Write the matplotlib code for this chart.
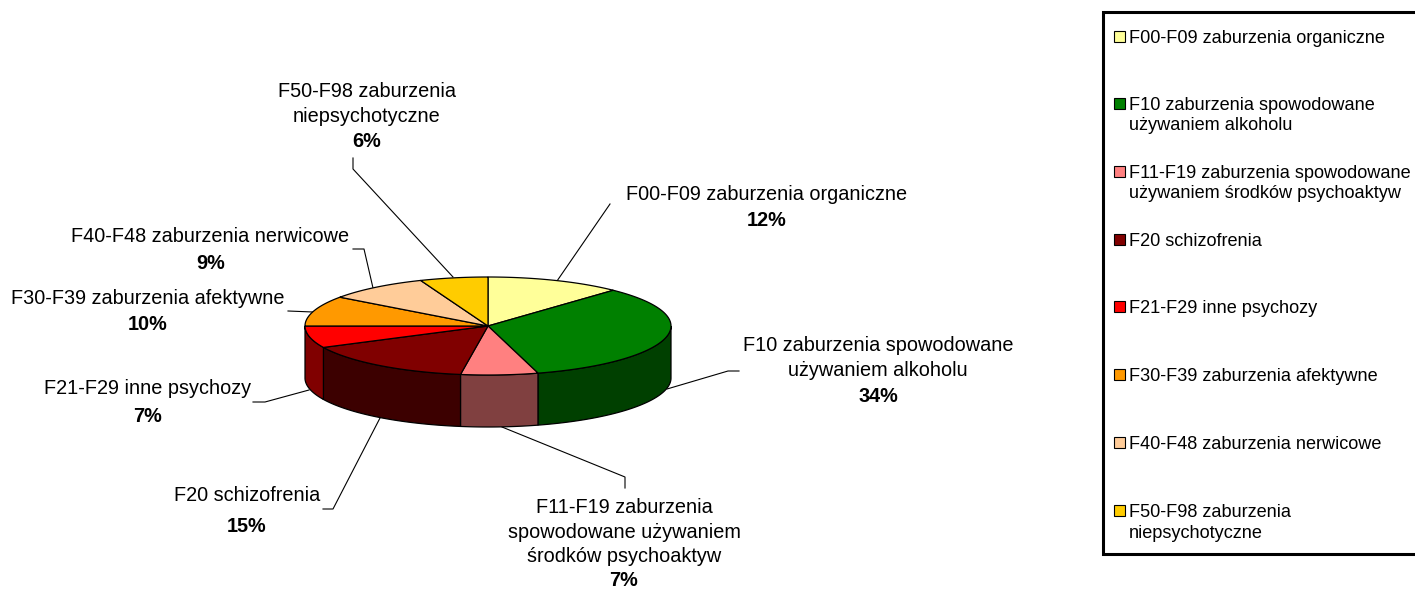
import numpy as np
import matplotlib.pyplot as plt
from matplotlib.patches import Polygon, Rectangle

plt.rcParams["font.family"] = ["Liberation Sans", "DejaVu Sans"]

# values, labels show them rounded
values = [12.0, 33.6, 6.8, 15.4, 7.2, 10.0, 9.0, 6.0]
colors = ["#FFFF99", "#008000", "#FF8080", "#800000", "#FF0000", "#FF9900", "#FFCC99", "#FFCC00"]
wall_colors = ["#808050", "#004000", "#804040", "#3C0000", "#800000", "#804D00", "#806650", "#806600"]
pie_labels = [
    ["F00-F09 zaburzenia organiczne"],
    ["F10 zaburzenia spowodowane", "używaniem alkoholu"],
    ["F11-F19 zaburzenia", "spowodowane używaniem", "środków psychoaktyw"],
    ["F20 schizofrenia"],
    ["F21-F29 inne psychozy"],
    ["F30-F39 zaburzenia afektywne"],
    ["F40-F48 zaburzenia nerwicowe"],
    ["F50-F98 zaburzenia", "niepsychotyczne"],
]
legend_labels = [
    ["F00-F09 zaburzenia organiczne"],
    ["F10 zaburzenia spowodowane", "używaniem alkoholu"],
    ["F11-F19 zaburzenia spowodowane", "używaniem środków psychoaktyw"],
    ["F20 schizofrenia"],
    ["F21-F29 inne psychozy"],
    ["F30-F39 zaburzenia afektywne"],
    ["F40-F48 zaburzenia nerwicowe"],
    ["F50-F98 zaburzenia", "niepsychotyczne"],
]

# layout, in image pixels: x centre, first baseline, baseline of the percent
label_x = [766.5, 878, 624, 247, 148, 147.5, 210.5, 367]
label_y = [200, 351, 513, 501, 394, 304, 242, 97]
pct_y = [226, 402, 585.5, 532, 422, 330, 269, 147]
leaders = [
    [(610, 204), (557, 281)],
    [(739, 371), (728, 371), (667, 389)],
    [(625, 488), (625, 477), (502, 427)],
    [(323, 509), (333, 509), (380, 418)],
    [(253, 402), (265, 402), (309, 390)],
    [(288, 311), (313, 312)],
    [(353, 249), (364, 249), (373, 288)],
    [(353, 158), (353, 169), (453, 277)],
]
legend_y = [43, 110, 178, 246, 313, 381, 449, 517]
cx, cy, rx, ry, depth = 488, 326, 183, 49, 52

fig = plt.figure(figsize=(14.15, 5.9), dpi=100)
ax = fig.add_axes([0, 0, 1, 1])
ax.set_xlim(0, 1415)
ax.set_ylim(590, 0)
ax.axis("off")


def rim(a, b):
    t = np.radians(np.linspace(a, b, 80))
    return cx + rx * np.sin(t), cy - ry * np.cos(t)


edges = np.concatenate([[0], np.cumsum(values)]) / sum(values) * 360

# leader lines go under the pie
for pts in leaders:
    xs, ys = zip(*pts)
    ax.plot(xs, ys, color="black", lw=0.8, zorder=1)

# walls of the front half
for i, c in enumerate(wall_colors):
    a, b = max(edges[i], 90), min(edges[i + 1], 270)
    if a >= b:
        continue
    x, y = rim(a, b)
    pts = np.r_[np.c_[x, y], np.c_[x, y + depth][::-1]]
    ax.add_patch(Polygon(pts, fc=c, ec="black", lw=0.9, zorder=2))

# top faces
for i, c in enumerate(colors):
    x, y = rim(edges[i], edges[i + 1])
    pts = np.r_[[[cx, cy]], np.c_[x, y]]
    ax.add_patch(Polygon(pts, fc=c, ec="black", lw=0.9, zorder=3))

for lines, val, x, y, py in zip(pie_labels, values, label_x, label_y, pct_y):
    for k, line in enumerate(lines):
        ax.text(x, y + k * 24.5, line, ha="center", va="baseline", fontsize=14.3)
    ax.text(x, py, f"{round(val)}%", ha="center", va="baseline", fontsize=14.3, fontweight="bold")

# legend box
ax.add_patch(Rectangle((1102.5, 12), 340, 542, fc="white", ec="black", lw=2.2, zorder=1))
for lines, c, y in zip(legend_labels, colors, legend_y):
    ax.add_patch(Rectangle((1114, y - 12), 11, 11, fc=c, ec="black", lw=0.8, zorder=3))
    for k, line in enumerate(lines):
        ax.text(1129, y + k * 20.5, line, ha="left", va="baseline", fontsize=13.1)

fig.savefig("out.png", dpi=100)
